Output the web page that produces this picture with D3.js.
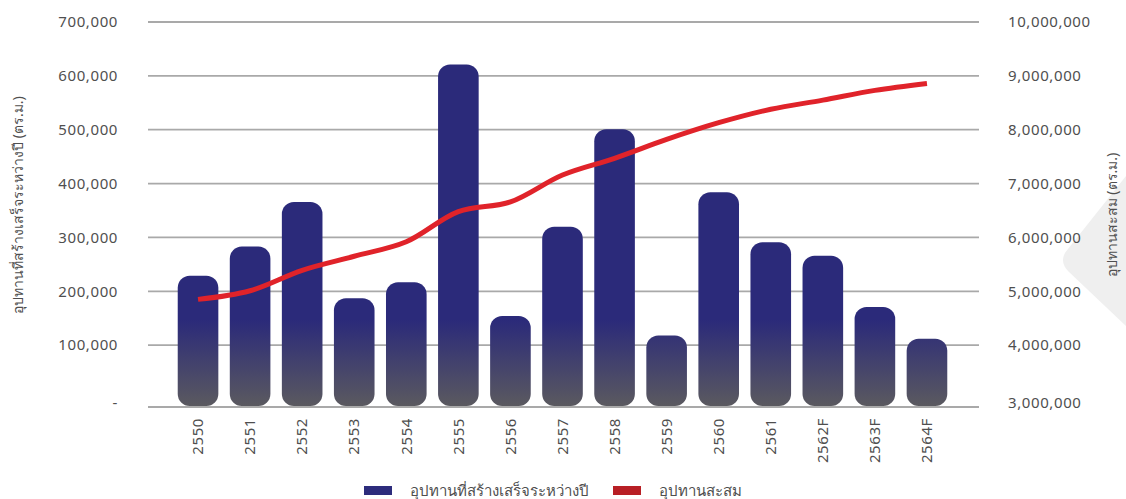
<!DOCTYPE html>
<html>
<head>
<meta charset="utf-8">
<script src="https://cdn.jsdelivr.net/npm/d3@7"></script>
<style>
  body { margin: 0; background: #fff; }
  svg { display: block; font-family: "Noto Sans", Lato, sans-serif; }
  .tick-label { fill: #4f4f4f; font-size: 15px; }
  .num { letter-spacing: 0.6px; }
  .title { fill: #4f4f4f; font-size: 14px; }
</style>
</head>
<body>
<svg width="1126" height="499"></svg>
<script>
const years = ['2550', '2551', '2552', '2553', '2554', '2555', '2556', '2557', '2558', '2559', '2560', '2561', '2562F', '2563F', '2564F'];
// supply completed during the year (sq.m.)
const completed = [229000, 283000, 366000, 187000, 217000, 621000, 154000, 320000, 501000, 118000, 384000, 291000, 266000, 171000, 112000];
// cumulative supply (sq.m.)
const cumulative = [4850000, 5010000, 5390000, 5650000, 5920000, 6480000, 6660000, 7160000, 7470000, 7820000, 8130000, 8380000, 8550000, 8730000, 8860000];
const leftTicks = [0, 100000, 200000, 300000, 400000, 500000, 600000, 700000];
const rightTicks = [3000000, 4000000, 5000000, 6000000, 7000000, 8000000, 9000000, 10000000];
const legendItems = [
  { label: 'อุปทานที่สร้างเสร็จระหว่างปี', color: '#2d2c7c' },
  { label: 'อุปทานสะสม', color: '#b81f25' },
];

const svg = d3.select('svg');
const gridLeft = 148, gridRight = 979, baseline = 407;

const x = d3.scaleBand().domain(years).range([172, 953]).paddingInner(0.22).paddingOuter(0.11);
const yLeft = d3.scaleLinear().domain([0, 700000]).range([399, 22]);
const yRight = d3.scaleLinear().domain([3000000, 10000000]).range([399, 22]);
const fmt = d3.format(',');

// decorative shape at right edge
svg.append('path')
  .attr('d', 'M1126,176 L1068,249 Q1058,260 1068,271 L1126,326 Z')
  .attr('fill', '#efefef');

const defs = svg.append('defs');
const grad = defs.append('linearGradient')
  .attr('id', 'barGrad')
  .attr('gradientUnits', 'userSpaceOnUse')
  .attr('x1', 0).attr('x2', 0).attr('y1', 320).attr('y2', baseline);
grad.append('stop').attr('offset', '0%').attr('stop-color', '#2b2a7a');
grad.append('stop').attr('offset', '100%').attr('stop-color', '#5b5a5f');

// gridlines (no zero line, the axis sits a bit lower)
svg.append('g')
  .selectAll('line')
  .data(leftTicks.filter(d => d > 0))
  .join('line')
  .attr('x1', gridLeft).attr('x2', gridRight)
  .attr('y1', d => yLeft(d)).attr('y2', d => yLeft(d))
  .attr('stroke', '#a9a9a9').attr('stroke-width', 1.8);

// left tick labels
svg.append('g')
  .selectAll('text')
  .data(leftTicks)
  .join('text')
  .attr('class', 'tick-label num')
  .attr('x', 118)
  .attr('y', d => d === 0 ? (yLeft(0) + baseline) / 2 : yLeft(d))
  .attr('dy', '0.35em')
  .attr('text-anchor', 'end')
  .text(d => d === 0 ? '-' : fmt(d));

// right tick labels
svg.append('g')
  .selectAll('text')
  .data(rightTicks)
  .join('text')
  .attr('class', 'tick-label num')
  .attr('x', 1008)
  .attr('y', d => d === rightTicks[0] ? (yRight(d) + baseline) / 2 : yRight(d))
  .attr('dy', '0.35em')
  .text(d => fmt(d));

// bars
svg.append('g')
  .selectAll('rect')
  .data(completed)
  .join('rect')
  .attr('x', (d, i) => x(years[i]))
  .attr('width', x.bandwidth())
  .attr('y', d => yLeft(d))
  .attr('height', d => baseline - 1 - yLeft(d))
  .attr('rx', 12)
  .attr('fill', 'url(#barGrad)');

// baseline
svg.append('line')
  .attr('x1', gridLeft).attr('x2', gridRight)
  .attr('y1', baseline).attr('y2', baseline)
  .attr('stroke', '#a9a9a9').attr('stroke-width', 1.8);

// cumulative line
const line = d3.line()
  .x((d, i) => x(years[i]) + x.bandwidth() / 2)
  .y(d => yRight(d))
  .curve(d3.curveCatmullRom);

svg.append('path')
  .datum(cumulative)
  .attr('d', line)
  .attr('fill', 'none')
  .attr('stroke', '#e0232a')
  .attr('stroke-width', 5);

// x labels, rotated
svg.append('g')
  .selectAll('text')
  .data(years)
  .join('text')
  .attr('class', 'tick-label num')
  .attr('transform', d => `translate(${x(d) + x.bandwidth() / 2},418) rotate(-90)`)
  .attr('dy', '0.35em')
  .attr('text-anchor', 'end')
  .text(d => d);

// axis titles
svg.append('text')
  .attr('class', 'title')
  .attr('transform', 'translate(18,205) rotate(-90)')
  .attr('dy', '0.35em')
  .attr('text-anchor', 'middle')
  .text('อุปทานที่สร้างเสร็จระหว่างปี  (ตร.ม.)');

svg.append('text')
  .attr('class', 'title')
  .attr('transform', 'translate(1112,215) rotate(-90)')
  .attr('dy', '0.35em')
  .attr('text-anchor', 'middle')
  .text('อุปทานสะสม  (ตร.ม.)');

// legend
const legendX = [364, 613];
const legend = svg.append('g')
  .selectAll('g')
  .data(legendItems)
  .join('g')
  .attr('transform', (d, i) => `translate(${legendX[i]},486)`);
legend.append('rect')
  .attr('width', 28).attr('height', 9)
  .attr('fill', d => d.color);
legend.append('text')
  .attr('class', 'tick-label')
  .attr('x', 46).attr('y', 5)
  .attr('dy', '0.35em')
  .text(d => d.label);
</script>
</body>
</html>
